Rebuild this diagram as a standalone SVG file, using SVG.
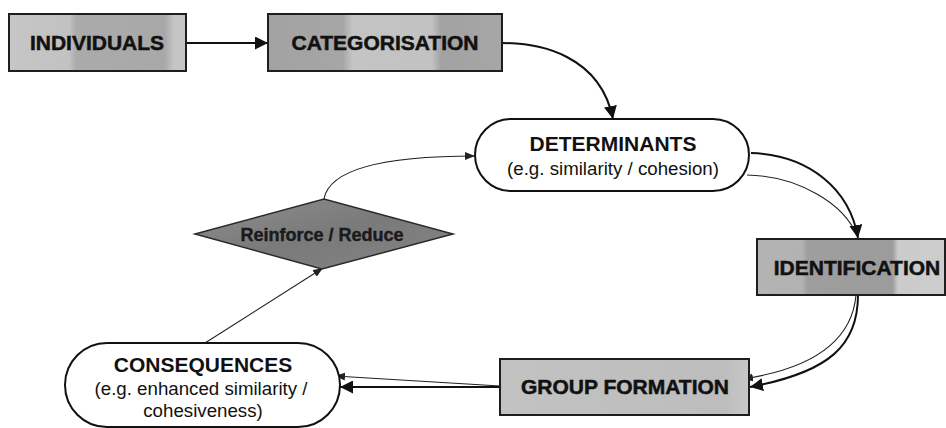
<svg xmlns="http://www.w3.org/2000/svg" width="946" height="428" viewBox="0 0 946 428">
  <style>
    .box { stroke: #1e1e1e; stroke-width: 2; }
    .pill { fill: #ffffff; stroke: #111111; stroke-width: 2; }
    .lbl { font-family: "Liberation Sans", Arial, sans-serif; font-weight: bold; font-size: 21px; fill: #111111; stroke: #111111; stroke-width: 0.5; text-anchor: middle; }
    .title { font-family: "Liberation Sans", Arial, sans-serif; font-weight: bold; font-size: 21px; fill: #111111; text-anchor: middle; }
    .sub { font-family: "Liberation Sans", Arial, sans-serif; font-size: 18.7px; fill: #111111; text-anchor: middle; }
    .dlbl { font-family: "Liberation Sans", Arial, sans-serif; font-weight: bold; font-size: 18px; fill: #1a1a1a; stroke: #1a1a1a; stroke-width: 0.4; text-anchor: middle; }
    .thick { fill: none; stroke: #111111; stroke-width: 2; }
    .thin { fill: none; stroke: #222222; stroke-width: 1.1; }
  </style>
  <defs>
    <marker id="big" markerUnits="userSpaceOnUse" markerWidth="14" markerHeight="13" refX="13" refY="6.5" orient="auto">
      <path d="M0,0 L13,6.5 L0,13 Z" fill="#111111"/>
    </marker>
    <marker id="small" markerUnits="userSpaceOnUse" markerWidth="11" markerHeight="9" refX="10" refY="4" orient="auto">
      <path d="M0,0 L10,4 L0,8 Z" fill="#222222"/>
    </marker>
    <linearGradient id="gInd" x1="0" y1="0" x2="1" y2="0">
      <stop offset="0" stop-color="#c6c6c6"/>
      <stop offset="0.34" stop-color="#c2c2c2"/>
      <stop offset="0.38" stop-color="#ababab"/>
      <stop offset="0.88" stop-color="#a8a8a8"/>
      <stop offset="0.93" stop-color="#c4c4c4"/>
      <stop offset="1" stop-color="#c6c6c6"/>
    </linearGradient>
    <linearGradient id="gCat" x1="0" y1="0" x2="1" y2="0">
      <stop offset="0" stop-color="#a2a2a2"/>
      <stop offset="0.32" stop-color="#a6a6a6"/>
      <stop offset="0.36" stop-color="#c4c4c4"/>
      <stop offset="0.70" stop-color="#c2c2c2"/>
      <stop offset="0.74" stop-color="#a2a2a2"/>
      <stop offset="1" stop-color="#a6a6a6"/>
    </linearGradient>
    <linearGradient id="gIde" x1="0" y1="0" x2="1" y2="0">
      <stop offset="0" stop-color="#b4b4b4"/>
      <stop offset="0.24" stop-color="#b2b2b2"/>
      <stop offset="0.27" stop-color="#9e9e9e"/>
      <stop offset="0.72" stop-color="#9c9c9c"/>
      <stop offset="0.75" stop-color="#cbcbcb"/>
      <stop offset="1" stop-color="#cdcdcd"/>
    </linearGradient>
    <linearGradient id="gGrp" x1="0" y1="0" x2="1" y2="0">
      <stop offset="0" stop-color="#c2c2c2"/>
      <stop offset="0.9" stop-color="#bdbdbd"/>
      <stop offset="1" stop-color="#c8c8c8"/>
    </linearGradient>
    <linearGradient id="gDia" x1="0" y1="0" x2="1" y2="1">
      <stop offset="0" stop-color="#8e8e8e"/>
      <stop offset="0.5" stop-color="#7a7a7a"/>
      <stop offset="1" stop-color="#848484"/>
    </linearGradient>
  </defs>

  <!-- connectors -->
  <g id="connectors">
    <path class="thick" d="M186,43 L268,43" marker-end="url(#big)"/>
    <path class="thick" d="M502,43 C540,43 600,55 613,119" marker-end="url(#big)"/>
    <path class="thin" d="M747,175 C800,176 845,205 857,236"/>
    <path class="thick" d="M751,153 C810,155 850,190 858,238" marker-end="url(#big)"/>
    <path class="thin" d="M856,295 C852,340 815,368 743,379" marker-end="url(#small)"/>
    <path class="thick" d="M858,295 C858,345 830,372 750,387" marker-end="url(#big)"/>
    <path class="thin" d="M500,386 L335,376" marker-end="url(#small)"/>
    <path class="thick" d="M500,387 L340,387" marker-end="url(#big)"/>
    <path class="thin" d="M205,343 L323,268" marker-end="url(#small)"/>
    <path class="thin" d="M324,199 C330,165 400,156 475,156" marker-end="url(#small)"/>
  </g>

  <!-- nodes -->
  <g id="individuals">
    <rect class="box" x="9" y="14" width="177" height="57" fill="url(#gInd)"/>
    <text class="lbl" x="97" y="50">INDIVIDUALS</text>
  </g>

  <g id="categorisation">
    <rect class="box" x="268" y="14" width="234" height="57" fill="url(#gCat)"/>
    <text class="lbl" x="385" y="50">CATEGORISATION</text>
  </g>

  <g id="determinants">
    <rect class="pill" x="475" y="119" width="274" height="72" rx="36" ry="36"/>
    <text class="title" x="613" y="151">DETERMINANTS</text>
    <text class="sub" x="613" y="175">(e.g. similarity / cohesion)</text>
  </g>

  <g id="identification">
    <rect class="box" x="757" y="239" width="188" height="56" fill="url(#gIde)"/>
    <text class="lbl" x="857" y="275">IDENTIFICATION</text>
  </g>

  <g id="group-formation">
    <rect class="box" x="500" y="359" width="249" height="56" fill="url(#gGrp)"/>
    <text class="lbl" x="625" y="394">GROUP FORMATION</text>
  </g>

  <g id="consequences">
    <rect class="pill" x="65" y="343" width="275" height="84" rx="42" ry="42"/>
    <text class="title" x="203" y="372">CONSEQUENCES</text>
    <text class="sub" x="201" y="395">(e.g. enhanced similarity /</text>
    <text class="sub" x="203" y="417">cohesiveness)</text>
  </g>

  <g id="reinforce-reduce">
    <polygon points="195,234 324,199 453,234 322,269" fill="url(#gDia)" stroke="#2a2a2a" stroke-width="1.5"/>
    <text class="dlbl" x="322" y="241">Reinforce / Reduce</text>
  </g>
</svg>
